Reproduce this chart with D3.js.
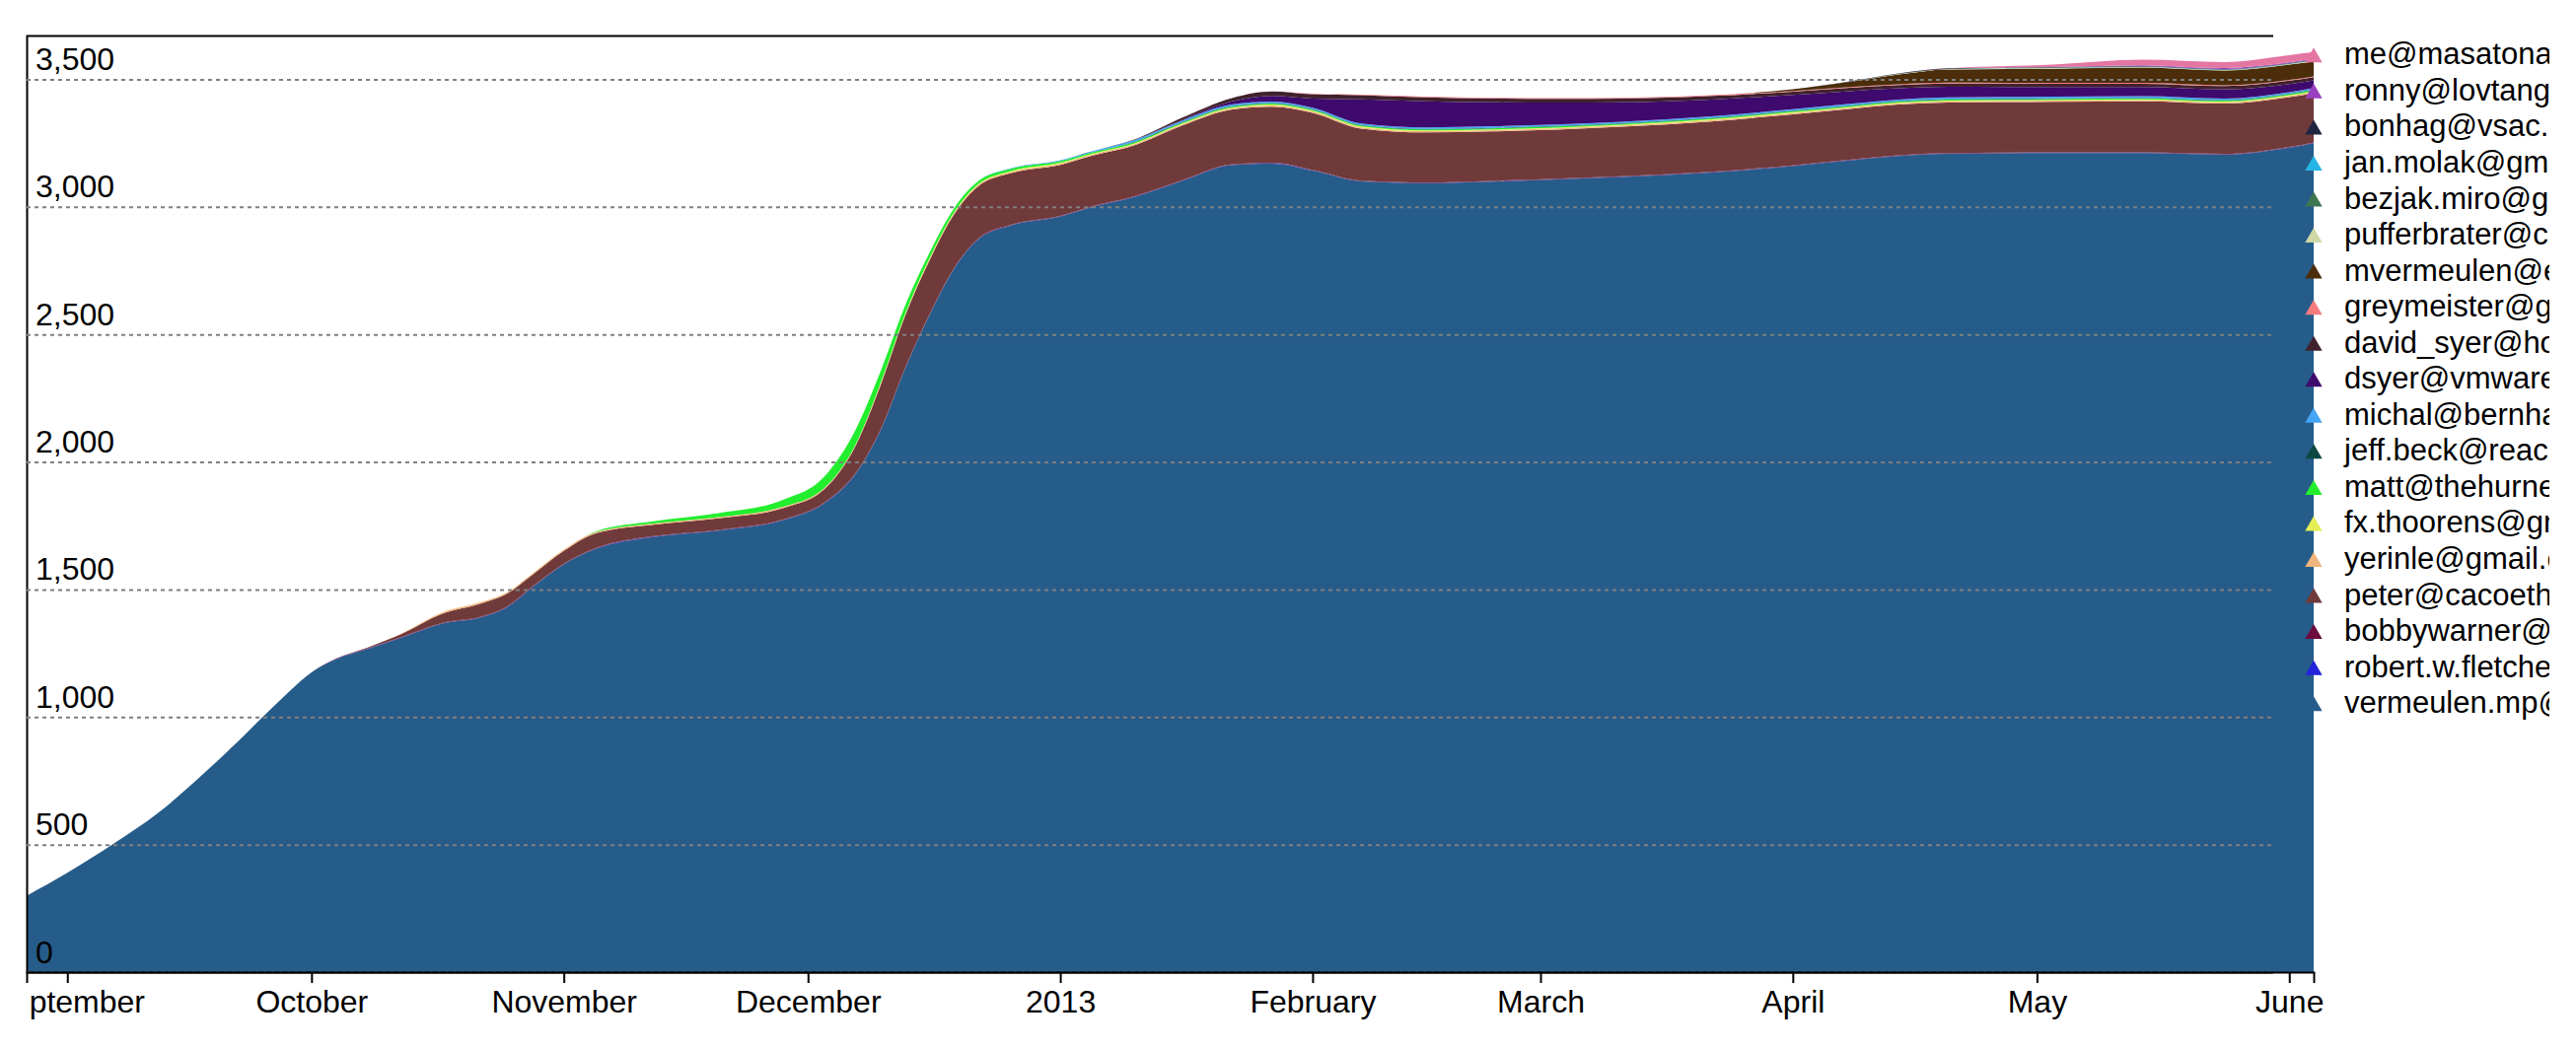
<!DOCTYPE html>
<html>
<head>
<meta charset="utf-8">
<script src="https://d3js.org/d3.v7.min.js"></script>
<style>
  body { margin: 0; background: #fff; }
  svg { display: block; font-family: "Liberation Sans", Arial, Helvetica, sans-serif; }
  .axis text { font-size: 32px; fill: #000; }
  .axis .domain { stroke: #000; stroke-width: 2px; fill: none; }
  .x.axis .tick line { stroke: #000; stroke-width: 2px; }
  .y.axis .tick line { stroke: #808080; stroke-width: 2px; stroke-dasharray: 4,4; }
  .legend text { font-size: 31px; fill: #000; }
</style>
</head>
<body>
<svg width="2612" height="1064"></svg>
<script>
// sample dates (one row per date)
var dates = [
  "2012-08-27","2012-09-01","2012-09-07","2012-09-12","2012-09-17","2012-09-22","2012-09-25","2012-09-28","2012-10-01","2012-10-04",
  "2012-10-08","2012-10-12","2012-10-17","2012-10-22","2012-10-25","2012-10-28","2012-11-01","2012-11-05","2012-11-12","2012-11-20",
  "2012-11-28","2012-12-03","2012-12-07","2012-12-10","2012-12-13","2012-12-16","2012-12-19","2012-12-22","2012-12-26","2013-01-01",
  "2013-01-05","2013-01-10","2013-01-16","2013-01-22","2013-01-27","2013-02-01","2013-02-07","2013-02-15","2013-02-23","2013-03-03",
  "2013-03-11","2013-03-22","2013-04-01","2013-04-08","2013-04-14","2013-04-20","2013-05-03","2013-05-14","2013-05-24","2013-06-01",
  "2013-06-04"
];

// authors, bottom of the stack first
var authors = [
  "vermeulen.mp@gmail.com", "robert.w.fletcher@", "bobbywarner@", "peter@cacoethes.co.uk",
  "yerinle@gmail.com", "fx.thoorens@gmail.com", "matt@thehurne", "jeff.beck@reach",
  "michal@bernha", "dsyer@vmware.com", "david_syer@ho", "greymeister@g",
  "mvermeulen@e", "pufferbrater@c", "bezjak.miro@gmail.com", "jan.molak@gmail.com",
  "bonhag@vsac.", "ronny@lovtang", "me@masatona"
];

var colors = [
  "#265c89", "#2323d8", "#6c0b3d", "#703a3a",
  "#f0b57c", "#e6ee55", "#22ee2e", "#0d4845",
  "#45a6f5", "#3e0a6e", "#40222e", "#f47a7e",
  "#4b2d0a", "#cdd8a6", "#3f7553", "#25b5e6",
  "#1e2640", "#9a3fbf", "#e476a2"
];

var vermeulenMp = [299,389,510,620,757,905,1000,1092,1175,1226,
  1268,1310,1365,1392,1430,1505,1598,1660,1706,1731,
  1772,1838,1960,2130,2370,2580,2760,2875,2928,2962,
  3000,3038,3102,3164,3170,3142,3100,3093,3099,3108,
  3117,3135,3160,3182,3199,3208,3211,3211,3205,3232,
  3250];
var robertFletcher = [0,0,0,0,0,0,0,0,0,1, 1,1,1,1,1,1,1,1,1,1, 1,1,1,1,1,1,1,1,1,1, 1,1,1,1,1,1,1,1,1,1, 1,1,1,1,1,1,1,1,1,1, 1];
var bobbyWarner = [0,0,0,0,0,0,0,0,0,2, 2,2,2,2,2,2,2,2,2,2, 2,2,2,2,2,2,2,2,2,2, 2,2,2,2,2,2,2,2,2,2, 2,2,2,2,2,2,2,2,2,2, 2];
var peter = [0,0,0,0,0,0,0,0,0,0,
  3,12,36,52,50,46,50,58,45,45,
  45,52,110,175,205,212,210,205,202,200,
  198,199,214,214,220,224,204,196,194,192,
  194,197,200,199,199,198,198,200,197,195,
  193];
var yerinle = [0,0,0,0,0,0,0,0,0,0, 0,2,5,5,5,5,5,5,5,5, 5,5,5,5,5,5,5,5,5,5, 5,5,5,5,5,5,5,5,5,5, 5,5,5,5,5,5,5,5,5,5, 5];
var fxThoorens = [0,0,0,0,0,0,0,0,0,0, 0,0,0,0,0,0,0,0,0,0, 0,0,0,3,3,3,3,3,3,3, 3,3,3,3,3,3,3,3,3,3, 3,3,3,3,3,3,3,3,3,3, 3];
var matt = [0,0,0,0,0,0,0,0,0,0,
  0,0,0,0,0,0,0,2,8,15,
  27,44,58,46,32,22,16,12,9,7,
  6,5,4,4,4,4,4,4,4,4,
  4,4,4,4,4,4,4,4,4,4,
  4];
var jeffBeck = [0,0,0,0,0,0,0,0,0,0, 0,0,0,0,0,0,0,0,0,0, 0,0,0,0,0,0,0,0,0,0, 0,2,2,2,2,2,2,2,2,2, 2,2,2,2,2,2,2,2,2,2, 2];
var michal = [0,0,0,0,0,0,0,0,0,0, 0,0,0,0,0,0,0,0,0,0, 0,0,0,0,0,0,0,0,2,3, 4,6,6,6,6,6,6,6,6,6, 6,6,6,6,6,6,6,6,6,6, 6];
var dsyer = [0,0,0,0,0,0,0,0,0,0, 0,0,0,0,0,0,0,0,0,0, 0,0,0,0,0,0,0,0,0,0,
  0,0,3,12,22,36,95,102,94,86,
  76,66,56,50,44,42,38,36,36,32,
  30];
var davidSyer = [0,0,0,0,0,0,0,0,0,0, 0,0,0,0,0,0,0,0,0,0, 0,0,0,0,0,0,0,0,0,0,
  0,2,8,13,18,17,16,15,15,15,
  15,14,13,13,13,13,13,13,13,13,
  13];
var greymeister = [0,0,0,0,0,0,0,0,0,0, 0,0,0,0,0,0,0,0,0,0, 0,0,0,0,0,0,0,0,0,0, 0,0,0,0,0,2,2,3,3,3, 3,3,3,3,3,3,3,3,3,3, 3];
var mvermeulen = [0,0,0,0,0,0,0,0,0,0, 0,0,0,0,0,0,0,0,0,0, 0,0,0,0,0,0,0,0,0,0, 0,0,0,0,0,0,0,0,0,0,
  0,0,6,20,38,52,56,60,58,60,
  58];
var pufferbrater = [0,0,0,0,0,0,0,0,0,0, 0,0,0,0,0,0,0,0,0,0, 0,0,0,0,0,0,0,0,0,0, 0,0,0,0,0,0,0,0,0,0, 0,0,0,0,2,2,2,2,2,2, 2];
var bezjak = [0,0,0,0,0,0,0,0,0,0, 0,0,0,0,0,0,0,0,0,0, 0,0,0,0,0,0,0,0,0,0, 0,0,0,0,0,0,0,0,0,0, 0,0,0,0,0,0,1,1,1,1, 1];
var janMolak = [0,0,0,0,0,0,0,0,0,0, 0,0,0,0,0,0,0,0,0,0, 0,0,0,0,0,0,0,0,0,0, 0,0,0,0,0,0,0,0,0,0, 0,0,0,0,0,0,1,1,1,1, 1];
var bonhag = [0,0,0,0,0,0,0,0,0,0, 0,0,0,0,0,0,0,0,0,0, 0,0,0,0,0,0,0,0,0,0, 0,0,0,0,0,0,0,0,0,0, 0,0,0,2,2,2,2,2,2,2, 2];
var ronny = [0,0,0,0,0,0,0,0,0,0, 0,0,0,0,0,0,0,0,0,0, 0,0,0,0,0,0,0,0,0,0, 0,0,0,0,0,0,0,0,0,0, 0,0,0,0,0,0,0,3,3,3, 3];
var masatona = [0,0,0,0,0,0,0,0,0,0, 0,0,0,0,0,0,0,0,0,0, 0,0,0,0,0,0,0,0,0,0, 0,0,0,0,0,0,0,0,0,0, 0,0,0,0,0,0,10,22,24,28, 28];

var values = [vermeulenMp, robertFletcher, bobbyWarner, peter, yerinle, fxThoorens, matt, jeffBeck,
  michal, dsyer, davidSyer, greymeister, mvermeulen, pufferbrater, bezjak, janMolak, bonhag, ronny, masatona];

var yTicks = [0, 500, 1000, 1500, 2000, 2500, 3000, 3500];

var plotLeft = 27, plotTop = 36, plotBottom = 986, gridRight = 2305, plotRight = 2346, svgRight = 2585;

var parse = d3.timeParse("%Y-%m-%d");
var rows = dates.map(function(d, i) {
  var r = { date: parse(d) };
  authors.forEach(function(a, j) { r[a] = values[j][i]; });
  return r;
});

var x = d3.scaleTime().domain(d3.extent(rows, d => d.date)).range([plotLeft, plotRight]);
var y = d3.scaleLinear().domain([0, 3672]).range([plotBottom, plotTop]);
var color = d3.scaleOrdinal().domain(authors).range(colors);

var layers = d3.stack().keys(authors)(rows);

var area = d3.area()
  .x(d => x(d.data.date))
  .y0(d => y(d[0]))
  .y1(d => y(d[1]))
  .curve(d3.curveMonotoneX);

var svg = d3.select("svg");
var defs = svg.append("defs");
defs.append("clipPath").attr("id", "clip")
  .append("rect").attr("x", plotLeft - 1).attr("y", 0).attr("width", svgRight - plotLeft + 1).attr("height", 1064);

var g = svg.append("g").attr("clip-path", "url(#clip)");

g.append("g").selectAll("path")
  .data(layers)
  .join("path")
  .attr("d", area)
  .attr("fill", d => color(d.key));

// y axis: dashed gridlines plus the frame
var yAxis = d3.axisLeft(y)
  .tickValues(yTicks)
  .tickFormat(d3.format(","))
  .tickSizeInner(-(gridRight - plotLeft))
  .tickSizeOuter(-(gridRight - plotLeft));

g.append("g").attr("class", "y axis")
  .attr("transform", "translate(" + plotLeft + ",0)")
  .call(yAxis)
  .selectAll(".tick text")
  .attr("x", 9)
  .attr("dy", -10)
  .attr("text-anchor", "start");

var xAxis = d3.axisBottom(x)
  .ticks(d3.timeMonth.every(1))
  .tickSizeInner(11)
  .tickSizeOuter(11)
  .tickPadding(7);

var xg = g.append("g").attr("class", "x axis")
  .attr("transform", "translate(0," + plotBottom + ")")
  .call(xAxis);

// the first month label is cut at the left frame
var firstTick = x.ticks(d3.timeMonth.every(1))[0];
defs.append("clipPath").attr("id", "clip-first")
  .append("rect").attr("x", plotLeft + 2 - x(firstTick)).attr("y", 0).attr("width", 400).attr("height", 80);
xg.select(".tick text").attr("clip-path", "url(#clip-first)");

// legend, top of the stack first
var legend = g.append("g").attr("class", "legend");
var item = legend.selectAll("g")
  .data(authors.slice().reverse())
  .join("g")
  .attr("transform", (d, i) => "translate(" + plotRight + "," + (58.3 + i * 36.55) + ")");

item.append("path")
  .attr("d", d3.symbol(d3.symbolTriangle, 130))
  .attr("fill", d => color(d));

item.append("text")
  .attr("x", 31)
  .attr("y", 7)
  .text(d => d);
</script>
</body>
</html>
